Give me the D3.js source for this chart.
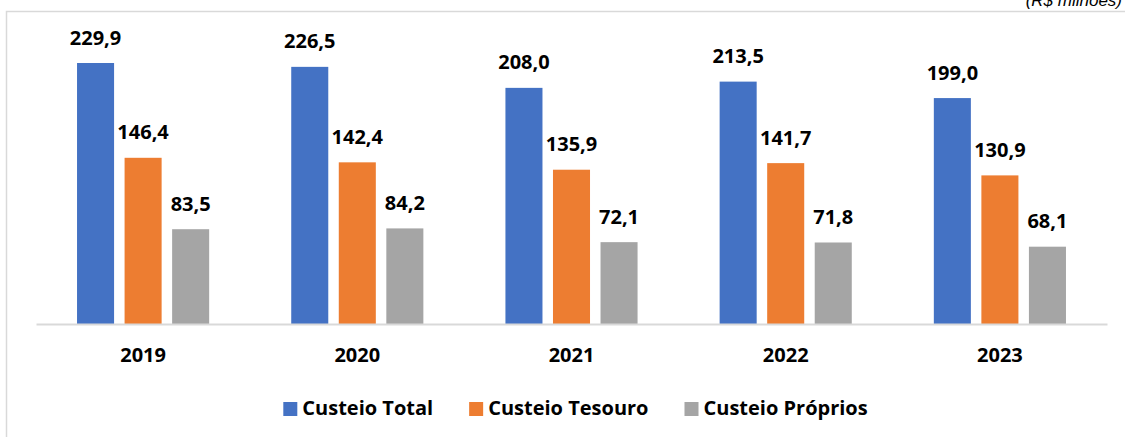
<!DOCTYPE html>
<html><head><meta charset="utf-8">
<script src="https://cdn.jsdelivr.net/npm/d3@7"></script>
<style>body{margin:0;background:#fff}svg{display:block}</style>
</head><body>
<script>
const categories = ["2019","2020","2021","2022","2023"];
const seriesNames = ["Custeio Total","Custeio Tesouro","Custeio Próprios"];
const custeioTotal = [229.9,226.5,208.0,213.5,199.0];
const custeioTesouro = [146.4,142.4,135.9,141.7,130.9];
const custeioProprios = [83.5,84.2,72.1,71.8,68.1];
const colors = ["#4472C4","#ED7D31","#A5A5A5"];
const unitLabel = "(R$ milhões)";

const W=1125,H=437;
const svg=d3.select("body").append("svg").attr("width",W).attr("height",H);
const font="'Open Sans', sans-serif";

// frame
svg.append("rect").attr("x",6.5).attr("y",11.5).attr("width",W+10).attr("height",H+10)
  .attr("fill","none").attr("stroke","#d9d9d9").attr("stroke-width",1.5);

svg.append("text").attr("x",1122).attr("y",6).attr("text-anchor","end")
  .attr("font-family","Arial, 'Liberation Sans', sans-serif").attr("font-style","italic")
  .attr("font-size",17).attr("fill","#000").text(unitLabel);

const series=[custeioTotal,custeioTesouro,custeioProprios];
const x=d3.scaleBand().domain(categories).range([36,1107]).paddingInner(0).paddingOuter(0);
const xs=d3.scaleBand().domain(d3.range(3)).range([0,x.bandwidth()]).paddingInner(0.221).paddingOuter(0.863);
const y=d3.scaleLinear().domain([0,229.9]).range([324,63]);

const g=svg.append("g");
categories.forEach((c,i)=>{
  series.forEach((s,j)=>{
    const bx=x(c)+xs(j);
    g.append("rect").attr("x",bx).attr("y",y(s[i])).attr("width",xs.bandwidth())
      .attr("height",y(0)-y(s[i])).attr("fill",colors[j]);
    g.append("text").attr("x",bx+xs.bandwidth()/2).attr("y",y(s[i])-18.5)
      .attr("text-anchor","middle").attr("font-family",font).attr("font-weight",700)
      .attr("font-size",20).attr("fill","#000")
      .text(d3.format(".1f")(s[i]).replace(".",","));
  });
});

// axis
const ax=svg.append("g").attr("transform","translate(0,324)")
  .call(d3.axisBottom(x).tickSize(0).tickPadding(0));
ax.select(".domain").attr("stroke","#d9d9d9").attr("stroke-width",2);
ax.selectAll("text").attr("font-family",font).attr("font-weight",700).attr("font-size",20)
  .attr("fill","#000").attr("dy",null).attr("y",38);

// legend
const leg=svg.append("g");
const items=seriesNames.map((n,j)=>{
  const it=leg.append("g");
  it.append("rect").attr("x",0).attr("y",402).attr("width",14).attr("height",14).attr("fill",colors[j]);
  const t=it.append("text").attr("x",19).attr("y",415).attr("font-family",font).attr("font-weight",700)
    .attr("font-size",20).attr("fill","#000").text(n);
  return {it,w:19+t.node().getComputedTextLength()};
});
const gap=36;
const total=d3.sum(items,d=>d.w)+gap*(items.length-1);
let cx=575.5-total/2;
items.forEach(d=>{d.it.attr("transform",`translate(${cx},0)`);cx+=d.w+gap;});
</script>
</body></html>
